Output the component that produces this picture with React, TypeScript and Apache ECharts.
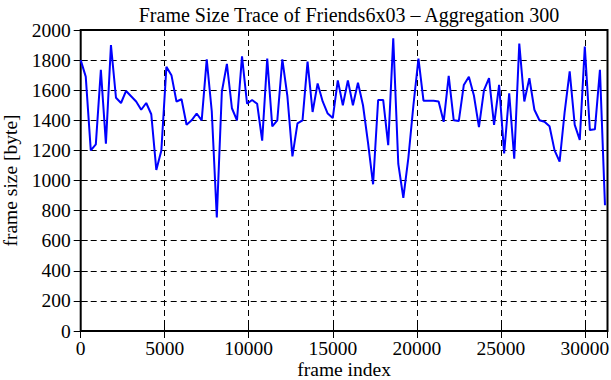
import React, { useEffect, useRef } from "react";
import * as echarts from "echarts";

const titleText = "Frame Size Trace of Friends6x03 \u2013 Aggregation 300";
const xAxisName = "frame index";
const yAxisName = "frame size [byte]";
const aggregation = 300;

// aggregated frame sizes (bytes), one value per 300 frames
const frameSizes = [
  1800, 1690, 1200, 1240, 1735, 1245, 1900, 1550, 1515, 1595,
  1560, 1525, 1470, 1515, 1440, 1070, 1200, 1755, 1700, 1525,
  1540, 1370, 1400, 1445, 1400, 1805, 1460, 755, 1590, 1775,
  1480, 1400, 1825, 1510, 1535, 1510, 1265, 1810, 1360, 1400,
  1805, 1560, 1160, 1380, 1400, 1790, 1455, 1645, 1525, 1445,
  1415, 1665, 1500, 1665, 1500, 1650, 1500, 1250, 975, 1535,
  1535, 1235, 1945, 1110, 885, 1150, 1500, 1810, 1530, 1530,
  1530, 1525, 1390, 1695, 1400, 1395, 1635, 1690, 1565, 1355,
  1600, 1680, 1370, 1635, 1180, 1580, 1145, 1910, 1525, 1680,
  1470, 1400, 1390, 1360, 1200, 1125, 1455, 1725, 1370, 1270,
  1890, 1335, 1340, 1735, 835,
];

const xMin = 0;
const xMax = 31350;
const xInterval = 5000;
const yMin = 0;
const yMax = 2000;
const yInterval = 200;

const FONT = "Liberation Serif";
const FS = 19.5;

export default function App() {
  const ref = useRef<HTMLDivElement>(null);
  useEffect(() => {
    if (!ref.current) return;
    const chart = echarts.init(ref.current, undefined, { renderer: "svg" });
    const data = frameSizes.map((v, i) => [i * aggregation, v]);
    const tickStyle = { show: true, inside: true, length: 7, lineStyle: { color: "#000", width: 1 } };
    const splitStyle = { show: true, lineStyle: { color: "#000", width: 1, type: [6, 4] as any } };
    const plain = (v: number) => String(v);
    chart.setOption({
      animation: false,
      backgroundColor: "#fff",
      title: {
        text: titleText,
        left: 344,
        textAlign: "center",
        top: 0,
        textStyle: { fontFamily: FONT, fontSize: 20, fontWeight: "normal", color: "#000" },
      },
      grid: {
        left: 80.7,
        right: 3.5,
        top: 30,
        bottom: 49,
        containLabel: false,
        outerBoundsMode: "none",
        show: true,
        borderColor: "#000",
        borderWidth: 2,
        backgroundColor: "transparent",
      },
      xAxis: [
        {
          type: "value",
          min: xMin,
          max: xMax,
          interval: xInterval,
          name: xAxisName,
          nameLocation: "middle",
          nameMoveOverlap: false,
          nameGap: 28,
          nameTextStyle: { fontFamily: FONT, fontSize: 19.5, color: "#000" },
          axisLine: { show: false },
          axisTick: tickStyle,
          splitLine: splitStyle,
          axisLabel: {
            fontFamily: FONT,
            fontSize: FS,
            color: "#000",
            margin: 7,
            showMaxLabel: false,
            formatter: plain,
          },
        },
        {
          type: "value",
          position: "top",
          min: xMin,
          max: xMax,
          interval: xInterval,
          axisLine: { show: false },
          axisTick: tickStyle,
          splitLine: { show: false },
          axisLabel: { show: false },
        },
      ],
      yAxis: [
        {
          type: "value",
          min: yMin,
          max: yMax,
          interval: yInterval,
          name: yAxisName,
          nameLocation: "middle",
          nameMoveOverlap: false,
          nameGap: 60,
          nameTextStyle: { fontFamily: FONT, fontSize: 19.5, color: "#000" },
          axisLine: { show: false },
          axisTick: tickStyle,
          splitLine: splitStyle,
          axisLabel: { fontFamily: FONT, fontSize: FS, color: "#000", margin: 10, formatter: plain },
        },
        {
          type: "value",
          position: "right",
          min: yMin,
          max: yMax,
          interval: yInterval,
          axisLine: { show: false },
          axisTick: tickStyle,
          splitLine: { show: false },
          axisLabel: { show: false },
        },
      ],
      series: [
        {
          type: "line",
          data,
          xAxisIndex: 0,
          yAxisIndex: 0,
          showSymbol: false,
          symbol: "none",
          lineStyle: { color: "#0000ff", width: 2 },
          itemStyle: { color: "#0000ff" },
        },
      ],
    });
    return () => chart.dispose();
  }, []);
  return (
    <div
      ref={ref}
      style={{ position: "absolute", left: 0, top: 0, width: 611, height: 380 }}
    />
  );
}
